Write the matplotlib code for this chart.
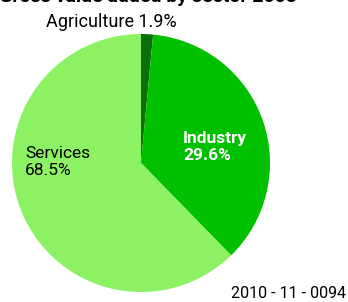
import matplotlib
matplotlib.use("Agg")
import matplotlib.pyplot as plt

# Gross value added by sector 2008, shares in % (as labelled)
sectors = ["Agriculture", "Industry", "Services"]
shares = [1.9, 29.6, 68.5]
# wedge sizes as they appear in the original drawing
wedge_sizes = [1.5, 36.2, 62.3]
colors = ["#0a700a", "#00c000", "#8cf264"]

plt.rcParams['font.family'] = ['Roboto', 'DejaVu Sans']

fig = plt.figure(figsize=(3.48, 3.02), dpi=100)
ax = fig.add_axes([0.0345, 0.0331, 0.7414, 0.8543])
ax.pie(wedge_sizes, colors=colors, startangle=90, counterclock=False,
       wedgeprops=dict(linewidth=0))
ax.set_aspect('equal')
ax.set_xlim(-1, 1)
ax.set_ylim(-1, 1)

# title, cut off at the top edge like the original
fig.text(297 / 348, 1 - 1.5 / 302, "Gross value added by sector 2008",
         ha='right', va='baseline', fontsize=14, fontweight='bold')

fig.text(111 / 348, 1 - 27 / 302, f"{sectors[0]} {shares[0]}%",
         ha='center', va='baseline', fontsize=13)
fig.text(183 / 348, 1 - 160 / 302, f"{sectors[1]}\n{shares[1]}%",
         ha='left', va='baseline', fontsize=12.5, color='white',
         fontweight='bold', linespacing=1.15)
fig.text(25 / 348, 1 - 175 / 302, f"{sectors[2]}\n{shares[2]}%",
         ha='left', va='baseline', fontsize=12.5, linespacing=1.15)

fig.text(346 / 348, 1 - 298 / 302, "2010 - 11 - 0094", ha='right',
         va='baseline', fontsize=11.5)

fig.savefig("out.png", dpi=100)
